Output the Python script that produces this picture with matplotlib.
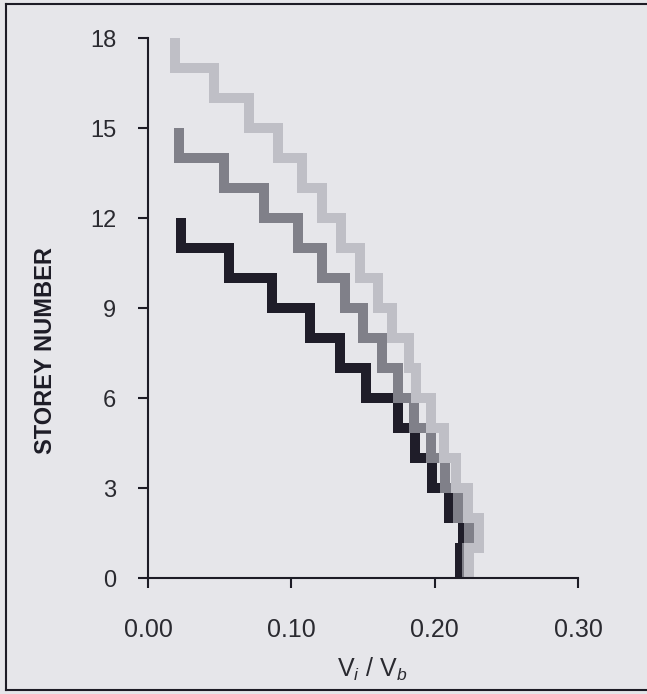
import numpy as np
import matplotlib
matplotlib.use("Agg")
import matplotlib.pyplot as plt
from matplotlib.lines import Line2D

plt.rcParams['font.family'] = ['Liberation Sans', 'DejaVu Sans']
plt.rcParams['mathtext.fontset'] = 'custom'
plt.rcParams['mathtext.rm'] = 'Liberation Sans'
plt.rcParams['mathtext.it'] = 'Liberation Sans:italic'

# storey shear ratio Vi/Vb, listed from storey 1 upwards
shear_12 = [0.218, 0.2195, 0.210, 0.198, 0.186, 0.1745, 0.152, 0.134,
            0.113, 0.0865, 0.0565, 0.0227]
shear_15 = [0.2225, 0.224, 0.2165, 0.207, 0.1975, 0.1856, 0.1745, 0.163,
            0.150, 0.1375, 0.1214, 0.1047, 0.081, 0.053, 0.0213]
shear_18 = [0.2236, 0.2306, 0.223, 0.2146, 0.2066, 0.1975, 0.187, 0.182,
            0.170, 0.1605, 0.148, 0.135, 0.1214, 0.1075, 0.091, 0.0708,
            0.0464, 0.0192]

x_ticks = [0.0, 0.1, 0.2, 0.3]
x_labels = ['0.00', '0.10', '0.20', '0.30']
y_ticks = [0, 3, 6, 9, 12, 15, 18]

bg = '#e6e6ea'
ink = '#1d1c26'

fig = plt.figure(figsize=(6.47, 6.94), dpi=100, facecolor=bg)
ax = fig.add_axes([0.2287, 0.1671, 0.6647, 0.7781], facecolor=bg)


def steps(vals):
    # each storey drawn as a vertical bar from floor n-1 to n at its shear value
    v = np.asarray(vals)[::-1]
    n = len(v)
    top = np.arange(n, 0, -1)
    xs = np.repeat(v, 2)
    ys = np.column_stack([top, top - 1]).ravel()
    return xs, ys


for vals, col in [(shear_12, '#1f1d29'), (shear_15, '#808089'), (shear_18, '#bfbfc6')]:
    xs, ys = steps(vals)
    ax.plot(xs, ys, color=col, lw=7.2, solid_joinstyle='miter',
            solid_capstyle='butt', clip_on=False)

ax.set_xlim(0, 0.30)
ax.set_ylim(0, 18)
ax.set_xticks(x_ticks)
ax.set_xticklabels(x_labels)
ax.set_yticks(y_ticks)

for s in ['top', 'right']:
    ax.spines[s].set_visible(False)
for s in ['left', 'bottom']:
    ax.spines[s].set_linewidth(1.5)
    ax.spines[s].set_color(ink)

ax.tick_params(axis='x', direction='out', length=7, width=1.5, color=ink,
               labelsize=18, pad=22, labelcolor='#2a2a30')
ax.tick_params(axis='y', direction='out', length=7, width=1.5, color=ink,
               labelsize=17, pad=16, labelcolor='#2a2a30')

fig.text(0.575, 0.035, r'V$_i$ / V$_b$', fontsize=18, ha='center',
         va='center', color='#2a2a30')
fig.text(0.07, 0.495, 'STOREY NUMBER', fontsize=17, fontweight='bold',
         rotation=90, ha='center', va='center', color='#1d1c26')

# page frame around the chart
fig.add_artist(Line2D([0.01, 0.01], [0.006, 0.994], color=ink, lw=1.5))
fig.add_artist(Line2D([0.01, 1.0], [0.994, 0.994], color=ink, lw=1.5))
fig.add_artist(Line2D([0.01, 1.0], [0.006, 0.006], color=ink, lw=1.5))

fig.savefig('out.png', dpi=100, facecolor=bg)
